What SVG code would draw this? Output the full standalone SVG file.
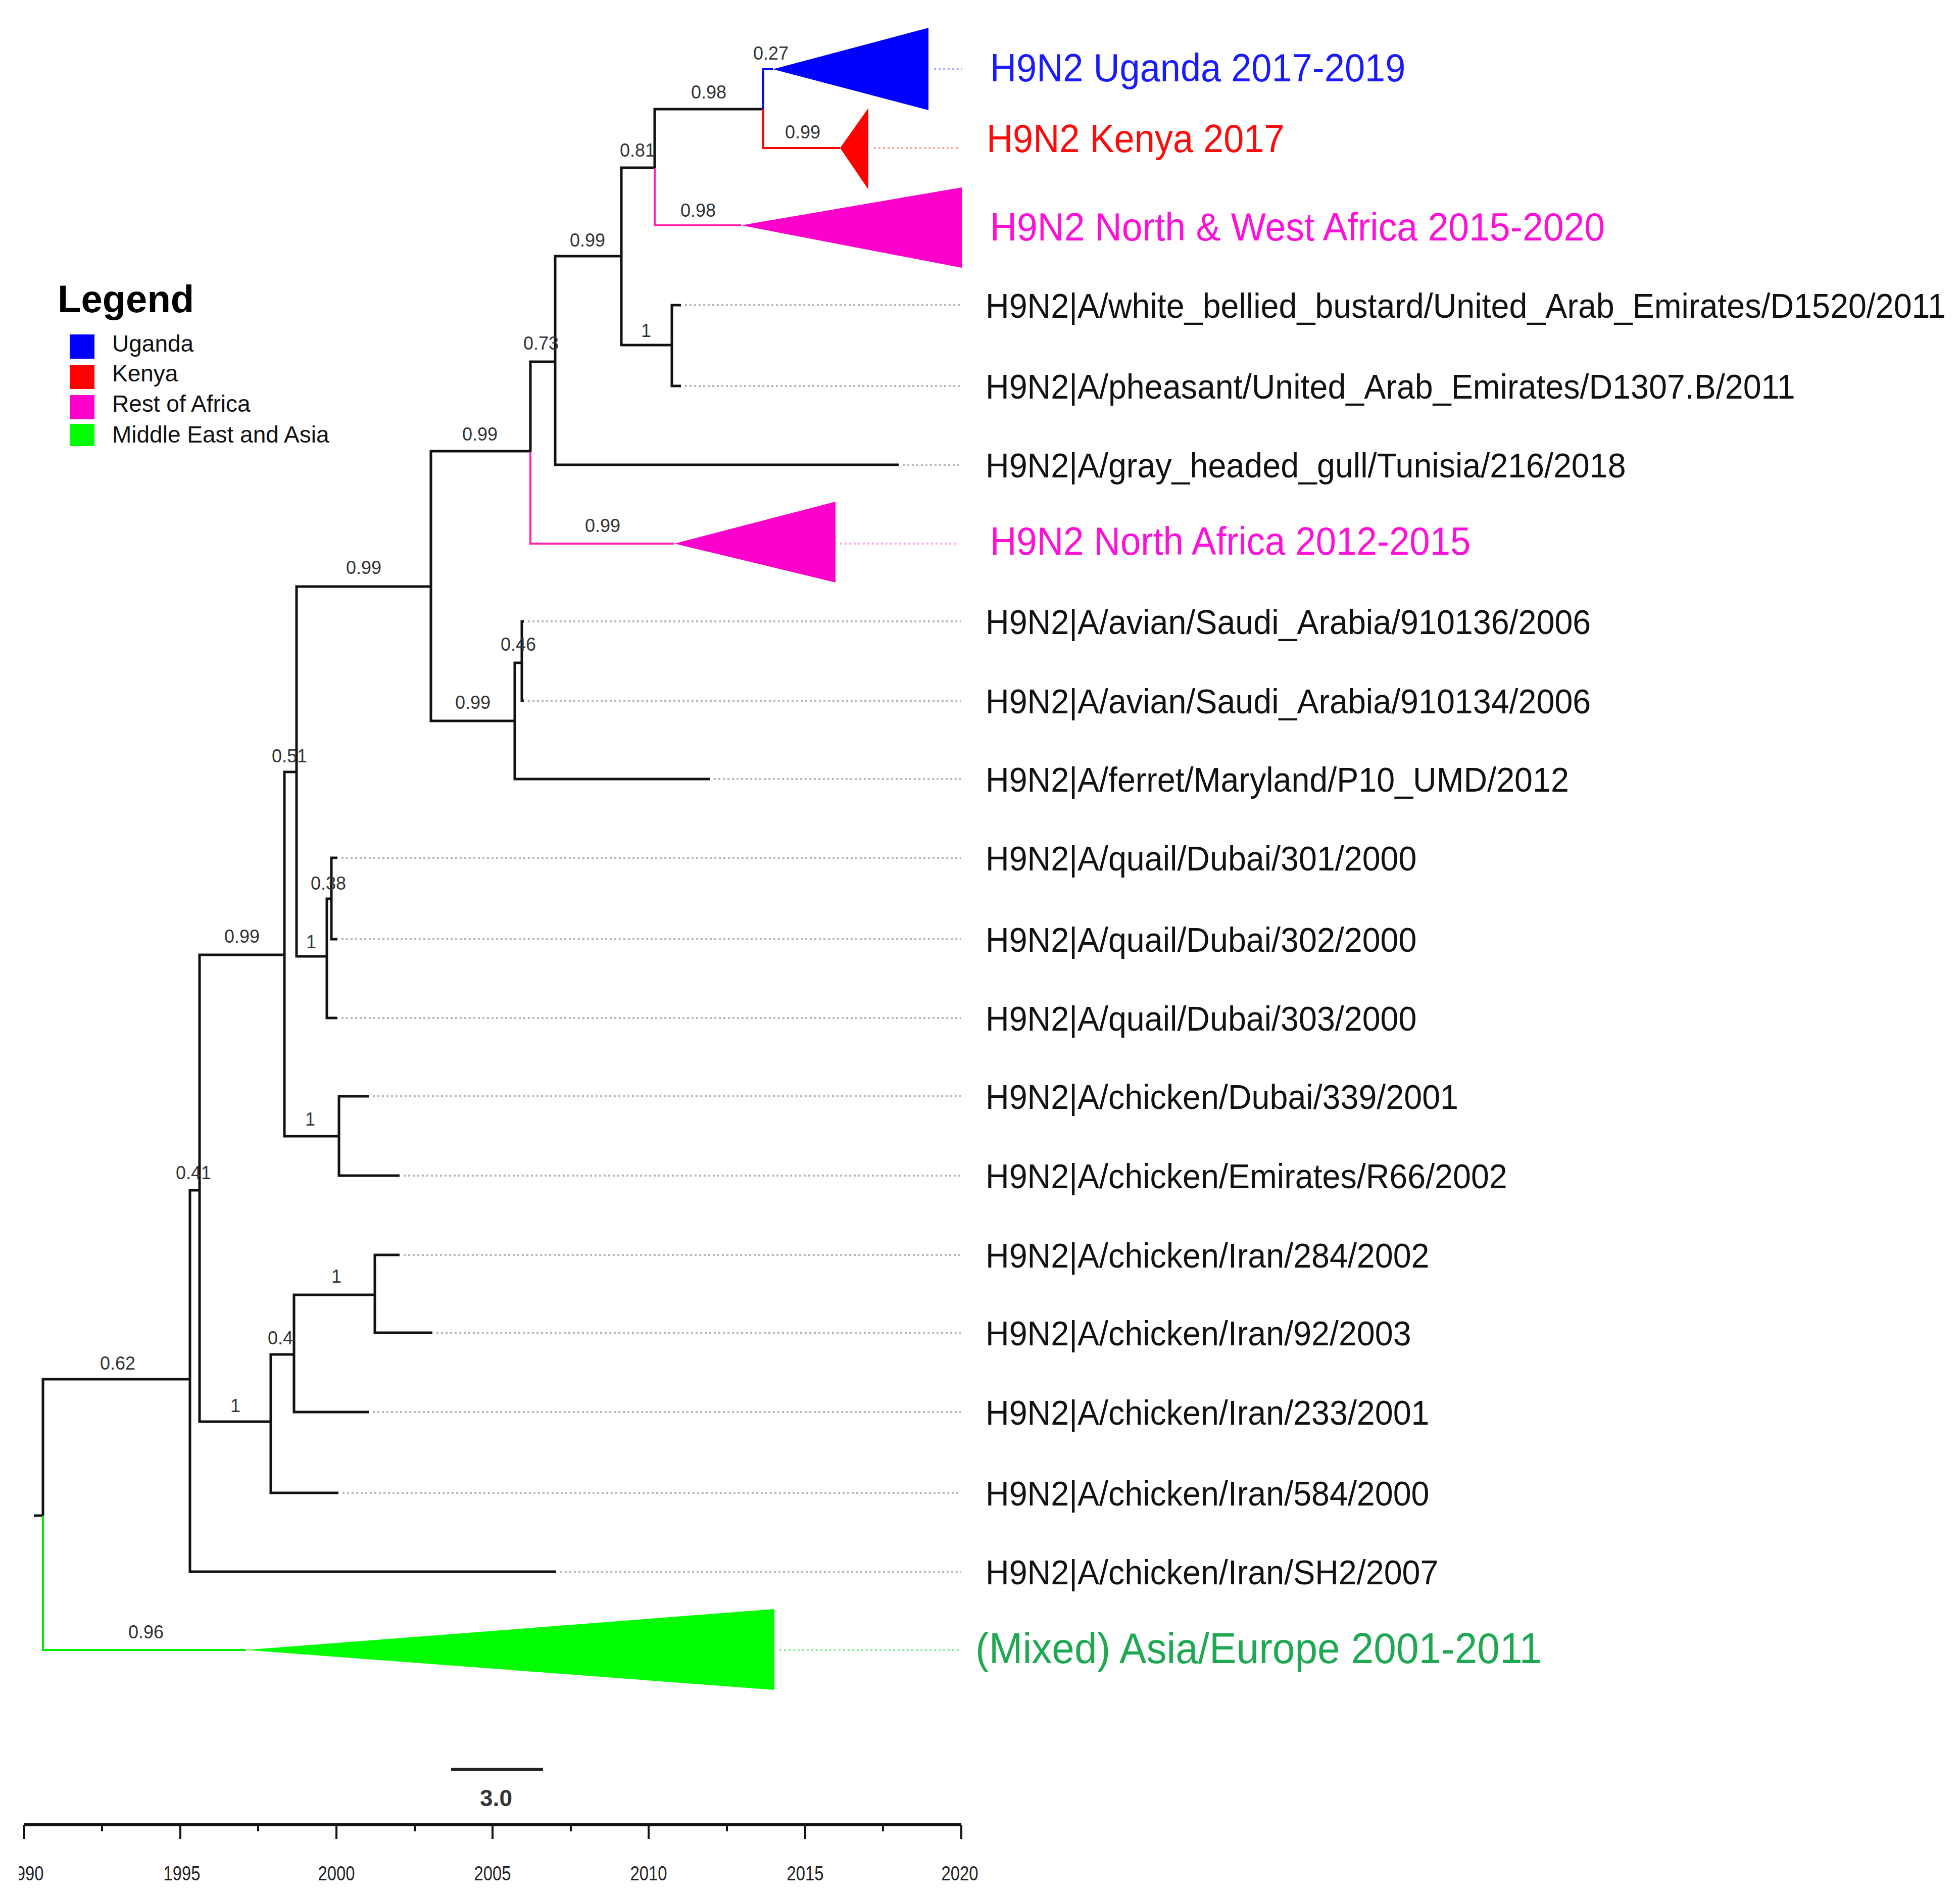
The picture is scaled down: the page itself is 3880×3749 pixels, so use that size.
<svg xmlns="http://www.w3.org/2000/svg" width="3880" height="3749" viewBox="0 0 3880 3749">
<style>
.br{fill:none;stroke:#111;stroke-width:5;stroke-linejoin:miter}
.bb{fill:none;stroke:#0000ff;stroke-width:4}
.br2{fill:none;stroke:#ff0000;stroke-width:4}
.bp{fill:none;stroke:#ff22aa;stroke-width:4}
.bg{fill:none;stroke:#00ee00;stroke-width:4}
.dot{fill:none;stroke:#b8b8b8;stroke-width:4;stroke-dasharray:4 5}
.sup{font-family:"Liberation Sans",Arial,sans-serif;font-size:36px;fill:#333;text-anchor:middle}
.tip{font-family:"Liberation Sans",Arial,sans-serif;font-size:68px;fill:#111}
.clade{font-family:"Liberation Sans",Arial,sans-serif;font-size:78px}
.leg{font-family:"Liberation Sans",Arial,sans-serif;font-size:46px;fill:#111}
.ax{font-family:"Liberation Sans",Arial,sans-serif;font-size:40px;fill:#222;text-anchor:middle}
</style>
<defs>
<clipPath id="c1990"><rect x="38" y="3660" width="100" height="80"/></clipPath>
</defs>
<rect x="0" y="0" width="3880" height="3749" fill="#ffffff"/>

<g id="connectors">
<path class="br" d="M67,3000 H85"/>
<path class="br" d="M85,3000 V2730 H376"/>
<path class="bg" d="M85,3000 V3266 H487"/>
<path class="br" d="M395,2356 H376 V3111 H1101"/>
<path class="br" d="M563,1890 H395 V2814 H536"/>
<path class="br" d="M587,1528 H563 V2249 H671"/>
<path class="br" d="M853,1161 H587 V1893 H647"/>
<path class="br" d="M656,1779 H647 V2015 H668"/>
<path class="br" d="M668,1698 H656 V1859 H668"/>
<path class="br" d="M730,2170 H671 V2327 H791"/>
<path class="br" d="M582,2681 H536 V2955 H670"/>
<path class="br" d="M742,2563 H582 V2795 H730"/>
<path class="br" d="M791,2484 H742 V2638 H856"/>
<path class="br" d="M1050,893 H853 V1427 H1019"/>
<path class="br" d="M1033,1312 H1019 V1542 H1405"/>
<path class="br" d="M1037,1230 H1033 V1387 H1037"/>
<path class="br" d="M1099,716 H1050 V894"/>
<path class="bp" d="M1050,894 V1076 H1335"/>
<path class="br" d="M1230,507 H1099 V920 H1779"/>
<path class="br" d="M1296,332 H1230 V683 H1330"/>
<path class="br" d="M1348,604 H1330 V764 H1348"/>
<path class="br" d="M1511,216 H1296 V332"/>
<path class="bp" d="M1296,332 V446 H1467"/>
<path class="bb" d="M1511,216 V137 H1530"/>
<path class="br2" d="M1511,216 V293 H1663"/>
</g>

<g id="support-labels">
<text class="sup" x="1526" y="118">0.27</text>
<text class="sup" x="1403" y="195">0.98</text>
<text class="sup" x="1589" y="274">0.99</text>
<text class="sup" x="1262" y="310">0.81</text>
<text class="sup" x="1382" y="429">0.98</text>
<text class="sup" x="1163" y="488">0.99</text>
<text class="sup" x="1279" y="667">1</text>
<text class="sup" x="1071" y="692">0.73</text>
<text class="sup" x="950" y="872">0.99</text>
<text class="sup" x="1193" y="1053">0.99</text>
<text class="sup" x="720" y="1136">0.99</text>
<text class="sup" x="1026" y="1288">0.46</text>
<text class="sup" x="936" y="1403">0.99</text>
<text class="sup" x="573" y="1509">0.51</text>
<text class="sup" x="650" y="1761">0.38</text>
<text class="sup" x="479" y="1866">0.99</text>
<text class="sup" x="616" y="1877">1</text>
<text class="sup" x="614" y="2228">1</text>
<text class="sup" x="383" y="2334">0.41</text>
<text class="sup" x="666" y="2539">1</text>
<text class="sup" x="555" y="2661">0.4</text>
<text class="sup" x="233" y="2711">0.62</text>
<text class="sup" x="466" y="2795">1</text>
<text class="sup" x="289" y="3243">0.96</text>
</g>

<g id="clade-uganda">
<polygon points="1530,137 1838,55 1838,218" fill="#0000ff"/>
<line x1="1849" y1="137" x2="1905" y2="137" stroke="#aab0ff" stroke-width="4" stroke-dasharray="4 5"/>
<text class="clade" fill="#1a1aff" transform="translate(1960,161) scale(0.925,1)">H9N2 Uganda 2017-2019</text>
</g>
<g id="clade-kenya">
<polygon points="1663,293 1719,214 1719,375" fill="#ff0000"/>
<line x1="1730" y1="293" x2="1898" y2="293" stroke="#ffaaaa" stroke-width="4" stroke-dasharray="4 5"/>
<text class="clade" fill="#ff0a0a" transform="translate(1953,301) scale(0.925,1)">H9N2 Kenya 2017</text>
</g>
<g id="clade-nw-africa">
<polygon points="1467,446 1904,371 1904,530" fill="#ff00cc"/>
<text class="clade" fill="#ff10d8" transform="translate(1960,476) scale(0.94,1)">H9N2 North &amp; West Africa 2015-2020</text>
</g>
<g id="clade-n-africa">
<polygon points="1335,1076 1654,993 1654,1153" fill="#ff00cc"/>
<line x1="1663" y1="1076" x2="1896" y2="1076" stroke="#ffaaee" stroke-width="4" stroke-dasharray="4 5"/>
<text class="clade" fill="#ff10d8" transform="translate(1960,1098) scale(0.93,1)">H9N2 North Africa 2012-2015</text>
</g>
<g id="clade-mixed">
<polygon points="487,3266 1533,3185 1533,3345" fill="#00ff00"/>
<line x1="1543" y1="3266" x2="1902" y2="3266" stroke="#99ee99" stroke-width="4" stroke-dasharray="4 5"/>
<text class="clade" fill="#1ea852" style="font-size:86px" transform="translate(1931,3292) scale(0.932,1)">(Mixed) Asia/Europe 2001-2011</text>
</g>

<g id="tip-d1520"><line class="dot" x1="1356" y1="604" x2="1902" y2="604"/><text class="tip" transform="translate(1951,629) scale(0.95,1)">H9N2|A/white_bellied_bustard/United_Arab_Emirates/D1520/2011</text></g>
<g id="tip-d1307"><line class="dot" x1="1356" y1="764" x2="1902" y2="764"/><text class="tip" transform="translate(1951,789) scale(0.95,1)">H9N2|A/pheasant/United_Arab_Emirates/D1307.B/2011</text></g>
<g id="tip-gull"><line class="dot" x1="1787" y1="920" x2="1902" y2="920"/><text class="tip" transform="translate(1951,945) scale(0.95,1)">H9N2|A/gray_headed_gull/Tunisia/216/2018</text></g>
<g id="tip-910136"><line class="dot" x1="1045" y1="1230" x2="1902" y2="1230"/><text class="tip" transform="translate(1951,1255) scale(0.95,1)">H9N2|A/avian/Saudi_Arabia/910136/2006</text></g>
<g id="tip-910134"><line class="dot" x1="1045" y1="1387" x2="1902" y2="1387"/><text class="tip" transform="translate(1951,1412) scale(0.95,1)">H9N2|A/avian/Saudi_Arabia/910134/2006</text></g>
<g id="tip-ferret"><line class="dot" x1="1413" y1="1542" x2="1902" y2="1542"/><text class="tip" transform="translate(1951,1567) scale(0.95,1)">H9N2|A/ferret/Maryland/P10_UMD/2012</text></g>
<g id="tip-q301"><line class="dot" x1="676" y1="1698" x2="1902" y2="1698"/><text class="tip" transform="translate(1951,1723) scale(0.95,1)">H9N2|A/quail/Dubai/301/2000</text></g>
<g id="tip-q302"><line class="dot" x1="676" y1="1859" x2="1902" y2="1859"/><text class="tip" transform="translate(1951,1884) scale(0.95,1)">H9N2|A/quail/Dubai/302/2000</text></g>
<g id="tip-q303"><line class="dot" x1="676" y1="2015" x2="1902" y2="2015"/><text class="tip" transform="translate(1951,2040) scale(0.95,1)">H9N2|A/quail/Dubai/303/2000</text></g>
<g id="tip-c339"><line class="dot" x1="738" y1="2170" x2="1902" y2="2170"/><text class="tip" transform="translate(1951,2195) scale(0.95,1)">H9N2|A/chicken/Dubai/339/2001</text></g>
<g id="tip-r66"><line class="dot" x1="799" y1="2327" x2="1902" y2="2327"/><text class="tip" transform="translate(1951,2352) scale(0.95,1)">H9N2|A/chicken/Emirates/R66/2002</text></g>
<g id="tip-i284"><line class="dot" x1="799" y1="2484" x2="1902" y2="2484"/><text class="tip" transform="translate(1951,2509) scale(0.95,1)">H9N2|A/chicken/Iran/284/2002</text></g>
<g id="tip-i92"><line class="dot" x1="864" y1="2638" x2="1902" y2="2638"/><text class="tip" transform="translate(1951,2663) scale(0.95,1)">H9N2|A/chicken/Iran/92/2003</text></g>
<g id="tip-i233"><line class="dot" x1="738" y1="2795" x2="1902" y2="2795"/><text class="tip" transform="translate(1951,2820) scale(0.95,1)">H9N2|A/chicken/Iran/233/2001</text></g>
<g id="tip-i584"><line class="dot" x1="678" y1="2955" x2="1902" y2="2955"/><text class="tip" transform="translate(1951,2980) scale(0.95,1)">H9N2|A/chicken/Iran/584/2000</text></g>
<g id="tip-sh2"><line class="dot" x1="1109" y1="3111" x2="1902" y2="3111"/><text class="tip" transform="translate(1951,3136) scale(0.95,1)">H9N2|A/chicken/Iran/SH2/2007</text></g>

<g id="legend">
<text x="114" y="618" font-family="Liberation Sans, Arial, sans-serif" font-size="76" font-weight="bold" fill="#000">Legend</text>
<rect x="138" y="662" width="49" height="48" fill="#0000ff"/>
<rect x="138" y="722" width="49" height="48" fill="#ff0000"/>
<rect x="138" y="782" width="49" height="48" fill="#ff00cc"/>
<rect x="138" y="839" width="49" height="44" fill="#00ff00"/>
<text class="leg" x="222" y="696">Uganda</text>
<text class="leg" x="222" y="755">Kenya</text>
<text class="leg" x="222" y="815">Rest of Africa</text>
<text class="leg" x="222" y="876">Middle East and Asia</text>
</g>

<g id="scale-bar">
<line x1="893" y1="3502" x2="1075" y2="3502" stroke="#222" stroke-width="6"/>
<text x="982" y="3575" font-family="Liberation Sans, Arial, sans-serif" font-size="46" font-weight="bold" fill="#333" text-anchor="middle">3.0</text>
</g>

<g id="time-axis">
<path d="M48,3612 H1903" stroke="#111" stroke-width="6" fill="none"/>
<path d="M48,3612 V3640 M202,3612 V3625 M357,3612 V3640 M511,3612 V3625 M666,3612 V3640 M821,3612 V3625 M975,3612 V3640 M1130,3612 V3625 M1284,3612 V3640 M1439,3612 V3625 M1594,3612 V3640 M1748,3612 V3625 M1903,3612 V3640" stroke="#111" stroke-width="4" fill="none"/>
<g clip-path="url(#c1990)"><text class="ax" transform="translate(50,3722) scale(0.82,1)">1990</text></g>
<text class="ax" transform="translate(360,3722) scale(0.82,1)">1995</text>
<text class="ax" transform="translate(666,3722) scale(0.82,1)">2000</text>
<text class="ax" transform="translate(975,3722) scale(0.82,1)">2005</text>
<text class="ax" transform="translate(1284,3722) scale(0.82,1)">2010</text>
<text class="ax" transform="translate(1594,3722) scale(0.82,1)">2015</text>
<text class="ax" transform="translate(1900,3722) scale(0.82,1)">2020</text>
</g>
</svg>
